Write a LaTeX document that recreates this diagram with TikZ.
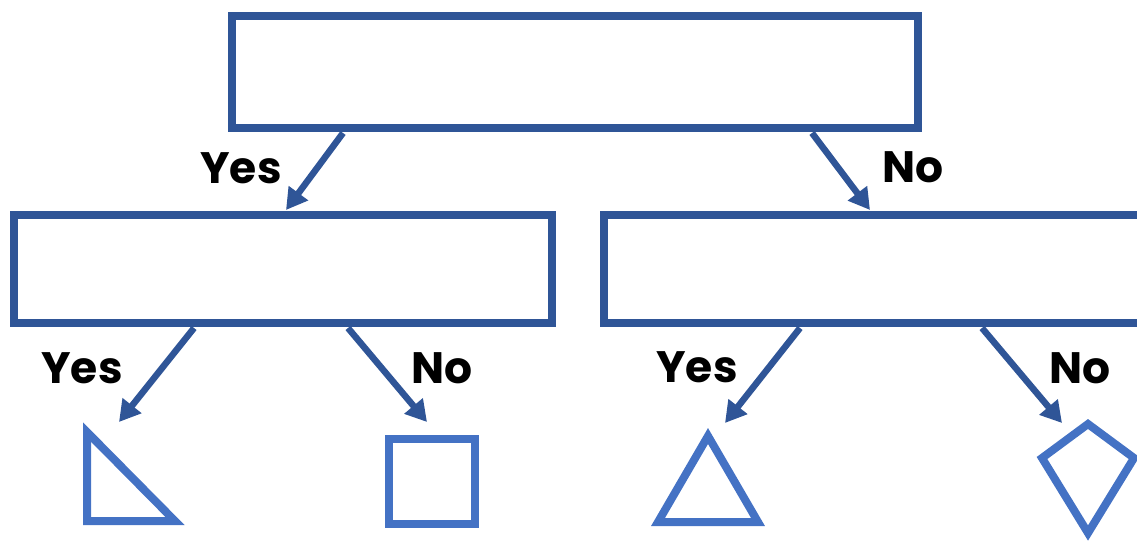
\documentclass[tikz,border=0pt]{standalone}
\usepackage{fontspec}
\setmainfont{Poppins}
\usetikzlibrary{arrows.meta}
\definecolor{dkblue}{RGB}{47,85,151}
\definecolor{ltblue}{RGB}{68,114,196}
\begin{document}
\begin{tikzpicture}[x=1pt,y=-1pt,
  qbox/.style={draw=dkblue,line width=8pt,minimum width=#1,inner sep=0pt,outer sep=0pt,anchor=north west},
  link/.style={draw=dkblue,line width=6.5pt,-{Triangle[length=21pt,width=23pt]}},
  lbl/.style={font=\fontsize{44}{44}\selectfont\bfseries,anchor=base,inner sep=0pt},
  shp/.style={draw=ltblue,line width=8pt,line join=miter,miter limit=10}]
\useasboundingbox (0,0) rectangle (1137,541);
\node[qbox=686pt,minimum height=112pt] (top) at (232,16) {};
\node[qbox=538pt,minimum height=108pt] (left) at (14,215) {};
\node[qbox=560pt,minimum height=108pt] (right) at (604,215) {};
% connector endpoints
\coordinate (t1) at (343,133);
\coordinate (t1e) at (286,210);
\coordinate (t2) at (812,133);
\coordinate (t2e) at (870,210);
\coordinate (l1) at (194,328);
\coordinate (l1e) at (119,422);
\coordinate (l2) at (348,328);
\coordinate (l2e) at (427,422);
\coordinate (r1) at (800,328);
\coordinate (r1e) at (725,423);
\coordinate (r2) at (982,328);
\coordinate (r2e) at (1062,423);
\draw[link] (t1) -- (t1e);
\draw[link] (t2) -- (t2e);
\draw[link] (l1) -- (l1e);
\draw[link] (l2) -- (l2e);
\draw[link] (r1) -- (r1e);
\draw[link] (r2) -- (r2e);
% labels
\node[lbl] (y1) at (241,183) {Yes};
\node[lbl] (n1) at (913,182) {No};
\node[lbl] (y2) at (82,383) {Yes};
\node[lbl] (n2) at (442,383) {No};
\node[lbl] (y3) at (697,382) {Yes};
\node[lbl] (n3) at (1080,383) {No};
% shapes
\draw[shp] (87,432) -- (87,521) -- (175,521) -- cycle;
\draw[shp] (389,439) rectangle (475,524);
\draw[shp] (708,436) -- (758,522) -- (658,522) -- cycle;
\draw[shp] (1088,424) -- (1134,458) -- (1088,533) -- (1042,458) -- cycle;
\end{tikzpicture}
\end{document}
